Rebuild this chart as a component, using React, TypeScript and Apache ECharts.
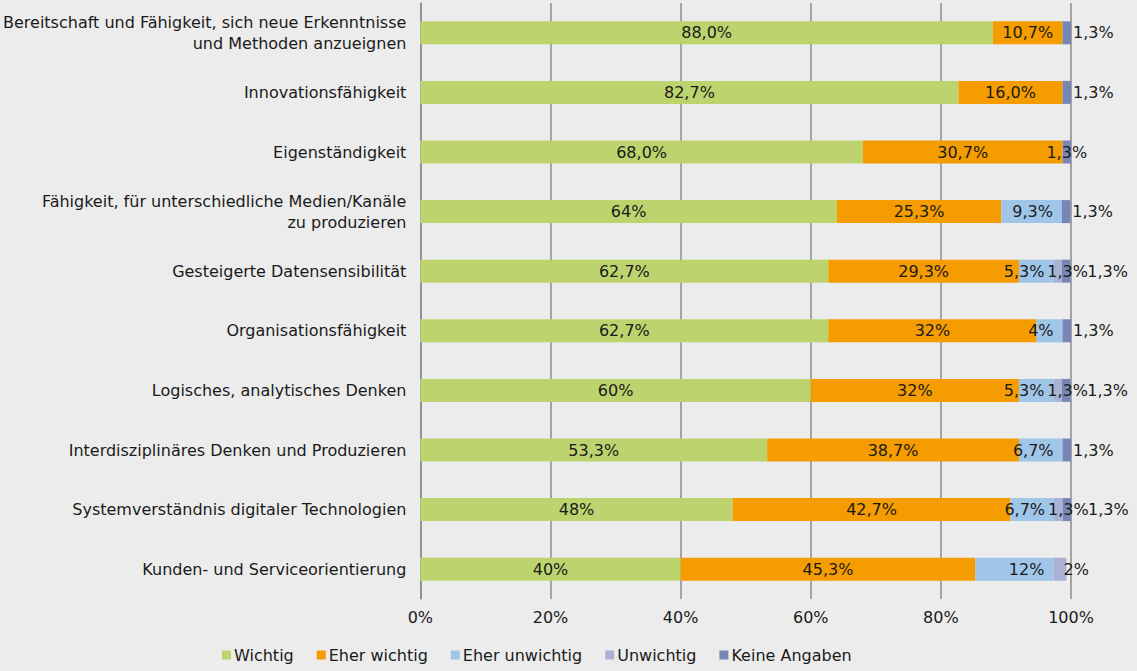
import React, { useEffect, useRef } from "react";
import * as echarts from "echarts";

const categories = [
  "Bereitschaft und Fähigkeit, sich neue Erkenntnisse\nund Methoden anzueignen",
  "Innovationsfähigkeit",
  "Eigenständigkeit",
  "Fähigkeit, für unterschiedliche Medien/Kanäle\nzu produzieren",
  "Gesteigerte Datensensibilität",
  "Organisationsfähigkeit",
  "Logisches, analytisches Denken",
  "Interdisziplinäres Denken und Produzieren",
  "Systemverständnis digitaler Technologien",
  "Kunden- und Serviceorientierung",
];

const seriesNames = ["Wichtig", "Eher wichtig", "Eher unwichtig", "Unwichtig", "Keine Angaben"];

const wichtig = [88.0, 82.7, 68.0, 64, 62.7, 62.7, 60, 53.3, 48, 40];
const eherWichtig = [10.7, 16.0, 30.7, 25.3, 29.3, 32, 32, 38.7, 42.7, 45.3];
const eherUnwichtig = [0, 0, 0, 9.3, 5.3, 4, 5.3, 6.7, 6.7, 12];
const unwichtig = [0, 0, 0, 0, 1.3, 0, 1.3, 0, 1.3, 2];
const keineAngaben = [1.3, 1.3, 1.3, 1.3, 1.3, 1.3, 1.3, 1.3, 1.3, 0];

// rows whose labels were printed with a fixed single decimal
const fixedDecimal = [true, true, true, false, false, false, false, false, false, false];

const xTicks = [0, 20, 40, 60, 80, 100];

const colors = ["#bdd46e", "#f49c00", "#9fc5e8", "#aab1d3", "#7886b6"];

const fmt = (v: number, row: number) => {
  if (!v) return "";
  const s = fixedDecimal[row] ? v.toFixed(1) : String(v);
  return s.replace(".", ",") + "%";
};

// label placement tweaks (style only)
const labelStyle: Record<number, (row: number) => any> = {
  0: () => ({ position: "inside" }),
  1: () => ({ position: "inside" }),
  2: () => ({ position: "insideRight", distance: 9 }),
  3: (row) =>
    row === 9
      ? { position: "right", distance: 0, offset: [-3, 0] }
      : { position: "inside", offset: [10, 0] },
  4: (row) =>
    row === 2
      ? { position: "inside", offset: [0, 0] }
      : row === 4 || row === 6 || row === 8
      ? { position: "right", distance: 17 }
      : { position: "right", distance: 2 },
};

const allData = [wichtig, eherWichtig, eherUnwichtig, unwichtig, keineAngaben];

export default function App() {
  const ref = useRef<HTMLDivElement>(null);
  useEffect(() => {
    document.body.style.margin = "0";
    const chart = echarts.init(ref.current!, null, { renderer: "svg" });
    const font = "DejaVu Sans";
    const fs = 16;
    chart.setOption({
      animation: false,
      backgroundColor: "#ececec",
      textStyle: { fontFamily: font },
      grid: { left: 419, right: 66, top: 3, bottom: 72, containLabel: false },
      legend: {
        bottom: 3,
        left: 217,
        icon: "rect",
        itemWidth: 9,
        itemHeight: 9,
        itemGap: 23,
        textStyle: { fontSize: fs, color: "#1a1a1a", fontFamily: font, padding: [0, 0, 0, -2] },
        data: seriesNames,
      },
      xAxis: {
        type: "value",
        min: 0,
        max: 100,
        interval: 20,
        axisLine: { show: false },
        axisTick: { show: false },
        axisLabel: {
          fontSize: fs,
          color: "#1a1a1a",
          margin: 10,
          formatter: (v: number) => (xTicks.includes(v) ? v + "%" : ""),
        },
        splitLine: { show: true, lineStyle: { color: "#8c8c8c", width: 1.5 } },
      },
      yAxis: {
        type: "category",
        inverse: true,
        data: categories,
        axisLine: { show: true, lineStyle: { color: "#8c8c8c", width: 1.5 } },
        axisTick: { show: false },
        axisLabel: {
          fontSize: fs,
          color: "#1a1a1a",
          margin: 14,
          align: "right",
          lineHeight: 21,
        },
      },
      series: allData.map((arr, si) => ({
        name: seriesNames[si],
        type: "bar",
        stack: "total",
        barWidth: 23,
        itemStyle: { color: colors[si] },
        data: arr.map((v, row) => ({
          value: v,
          label: {
            show: v > 0,
            fontSize: fs,
            color: "#1a1a1a",
            fontFamily: font,
            formatter: () => fmt(v, row),
            ...labelStyle[si](row),
          },
        })),
      })),
    });
    return () => chart.dispose();
  }, []);
  return <div ref={ref} style={{ width: 1137, height: 671 }} />;
}
